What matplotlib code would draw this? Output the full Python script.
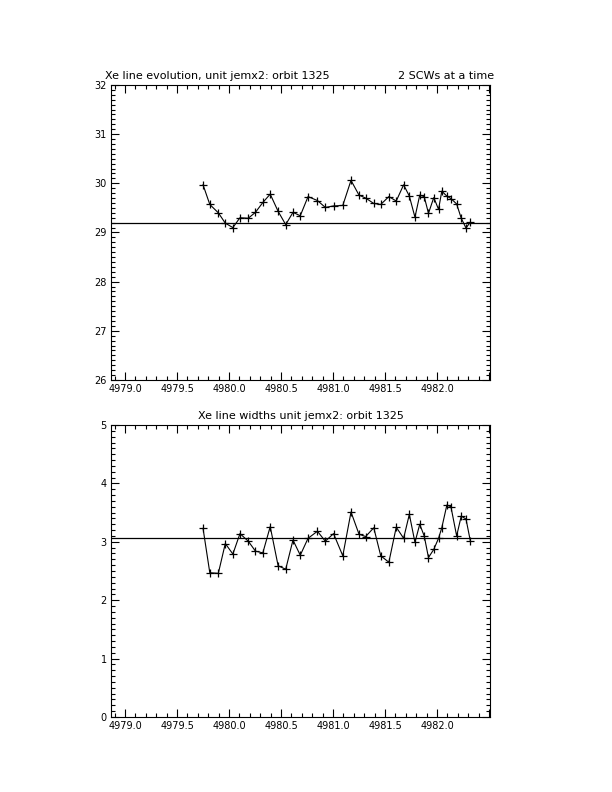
import matplotlib
matplotlib.use("Agg")
import matplotlib.pyplot as plt
from matplotlib.ticker import MultipleLocator, FormatStrFormatter, FuncFormatter

# --- data ---
time = [4979.750, 4979.815, 4979.897, 4979.964, 4980.037, 4980.105, 4980.185,
        4980.254, 4980.325, 4980.396, 4980.472, 4980.545, 4980.615, 4980.685,
        4980.760, 4980.850, 4980.926, 4981.005, 4981.094, 4981.173, 4981.250,
        4981.314, 4981.392, 4981.459, 4981.537, 4981.608, 4981.679, 4981.734,
        4981.788, 4981.834, 4981.877, 4981.918, 4981.969, 4982.015, 4982.046,
        4982.095, 4982.134, 4982.189, 4982.233, 4982.279, 4982.320]

line_pos = [29.97, 29.57, 29.40, 29.19, 29.10, 29.30, 29.29, 29.41, 29.61, 29.78,
            29.43, 29.16, 29.41, 29.34, 29.73, 29.65, 29.51, 29.54, 29.55, 30.06,
            29.76, 29.70, 29.59, 29.57, 29.73, 29.64, 29.97, 29.74, 29.31, 29.76,
            29.73, 29.39, 29.71, 29.47, 29.84, 29.74, 29.69, 29.58, 29.29, 29.09,
            29.21]

line_width = [3.23, 2.47, 2.46, 2.97, 2.79, 3.14, 3.01, 2.84, 2.81, 3.26,
              2.59, 2.53, 3.03, 2.77, 3.06, 3.18, 3.01, 3.14, 2.76, 3.51,
              3.13, 3.09, 3.24, 2.76, 2.65, 3.25, 3.06, 3.47, 2.99, 3.30,
              3.10, 2.73, 2.87, 3.06, 3.24, 3.63, 3.60, 3.10, 3.44, 3.39,
              3.02]

pos_reference = 29.19
width_reference = 3.06

title_top_left = "Xe line evolution, unit jemx2: orbit 1325"
title_top_right = "2 SCWs at a time"
title_bottom = "Xe line widths unit jemx2: orbit 1325"

xlim = (4978.865, 4982.51)
last_x_label = 4982.0
ylim_top = (26, 32)
ylim_bottom = (0, 5)

plt.rcParams['font.family'] = ['DejaVu Sans']
fig = plt.figure(figsize=(6.12, 7.92), dpi=100)
fig.patch.set_facecolor('white')

ax1 = fig.add_axes([0.1814, 0.5202, 0.6193, 0.3725])
ax2 = fig.add_axes([0.1814, 0.0947, 0.6193, 0.3687])


def xfmt(v, pos):
    return '' if v > last_x_label + 1e-6 else '%.1f' % v


def style(ax, ylim, ymajor):
    ax.set_xlim(*xlim)
    ax.set_ylim(*ylim)
    ax.xaxis.set_major_locator(MultipleLocator(0.5))
    ax.xaxis.set_minor_locator(MultipleLocator(0.1))
    ax.yaxis.set_major_locator(MultipleLocator(ymajor))
    ax.yaxis.set_minor_locator(MultipleLocator(0.1))
    ax.xaxis.set_major_formatter(FuncFormatter(xfmt))
    ax.yaxis.set_major_formatter(FormatStrFormatter('%d'))
    ax.tick_params(which='both', direction='in', top=True, right=True,
                   width=0.8, labelsize=7, colors='black')
    ax.tick_params(which='major', length=6)
    ax.tick_params(which='minor', length=3)
    ax.tick_params(axis='x', pad=3)
    ax.tick_params(axis='y', pad=3)
    for sp in ax.spines.values():
        sp.set_linewidth(0.8)
        sp.set_color('black')


style(ax1, ylim_top, 1)
style(ax2, ylim_bottom, 1)

ax1.plot(time, line_pos, color='black', lw=0.8, marker='+', ms=5.5, mew=0.9)
ax1.axhline(pos_reference, color='black', lw=0.9)
ax2.plot(time, line_width, color='black', lw=0.8, marker='+', ms=5.5, mew=0.9)
ax2.axhline(width_reference, color='black', lw=0.9)

ax1.text(-0.015, 1.012, title_top_left, transform=ax1.transAxes, fontsize=8,
         ha='left', va='bottom')
ax1.text(1.01, 1.012, title_top_right, transform=ax1.transAxes, fontsize=8,
         ha='right', va='bottom')
ax2.set_title(title_bottom, fontsize=8, pad=4)

fig.savefig('out.png', dpi=100, facecolor='white')
